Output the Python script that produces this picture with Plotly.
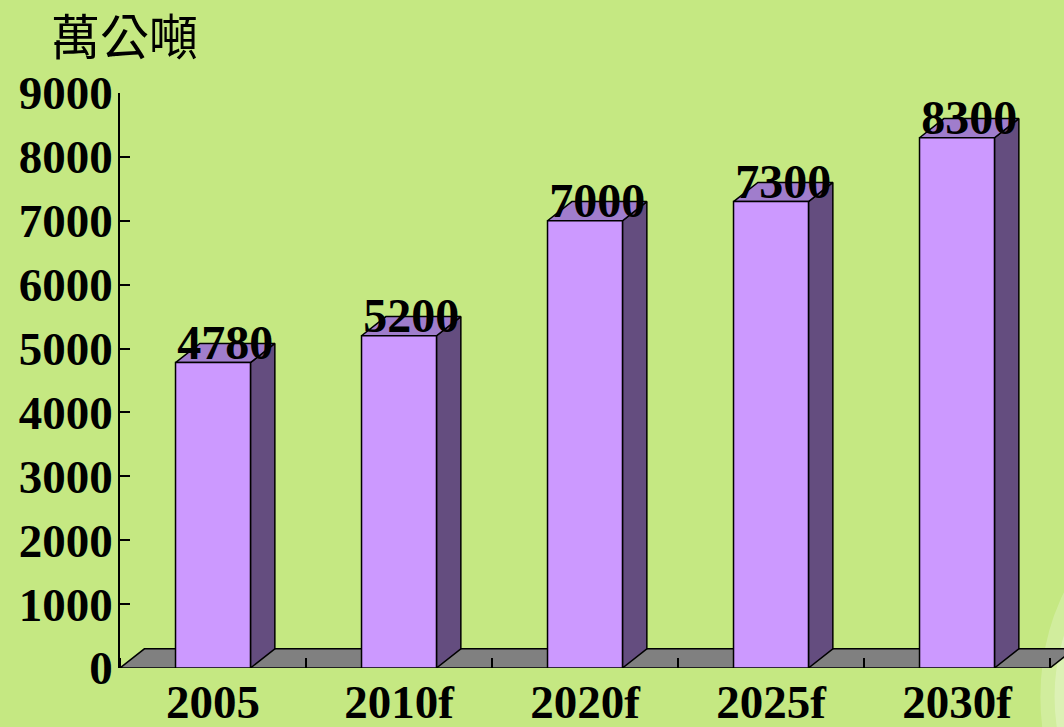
import plotly.graph_objects as go

categories = ["2005", "2010f", "2020f", "2025f", "2030f"]
values = [4780, 5200, 7000, 7300, 8300]
y_ticks = [0, 1000, 2000, 3000, 4000, 5000, 6000, 7000, 8000, 9000]
unit_title = "萬公噸"

BG = "#c5e882"
FRONT = "#cc99ff"
SIDE = "#644d7f"
TOP = "#a07dcc"
FLOOR = "#808080"
SERIF = "Liberation Serif, Times New Roman, serif"

W = 0.403      # bar width (category units)
DX = 0.131     # depth offset in x (category units)
DY = 300       # depth offset in y (value units)
LBL = 250      # label offset above bar front top

xs = list(range(len(categories)))
n = len(categories)

fig = go.Figure()


def poly(px, py, color):
    fig.add_trace(go.Scatter(
        x=px + [px[0]], y=py + [py[0]], mode="lines", fill="toself", fillcolor=color,
        line=dict(color="black", width=1.5), hoverinfo="skip", showlegend=False))


# floor
x0, x1 = -0.5, n - 0.5
poly([x0, x1, x1 + DX, x0 + DX], [0, 0, DY, DY], FLOOR)

# bars
for i, v in zip(xs, values):
    l, r = i - W / 2, i + W / 2
    poly([r, r, r + DX, r + DX], [0, v, v + DY, DY], SIDE)        # side face
    poly([l, r, r + DX, l + DX], [v, v, v + DY, v + DY], TOP)     # top face
    poly([l, r, r, l], [0, 0, v, v], FRONT)                       # front face

# labels
fig.add_trace(go.Scatter(
    x=[i + DX / 2 for i in xs], y=[v + LBL for v in values],
    mode="text", text=[str(v) for v in values], textposition="middle center",
    textfont=dict(family=SERIF, size=48, color="black", weight="bold"),
    cliponaxis=False, showlegend=False, hoverinfo="skip"))

fig.update_layout(
    width=1064, height=727,
    margin=dict(l=120, r=0, t=93, b=59, autoexpand=False),
    paper_bgcolor=BG, plot_bgcolor=BG,
    shapes=[
        dict(type="circle", xref="paper", yref="paper", layer="below",
             x0=0.975, x1=1.22, y0=-0.35, y1=0.25,
             fillcolor="rgba(255,255,255,0.22)", line=dict(width=0)),
        dict(type="circle", xref="paper", yref="paper", layer="below",
             x0=0.99, x1=1.2, y0=-0.3, y1=0.2,
             fillcolor="rgba(255,255,255,0.25)", line=dict(width=0)),
    ],
    annotations=[dict(
        text=unit_title, xref="paper", yref="paper",
        x=-0.075, y=1.0, yanchor="bottom", xanchor="left", yshift=22, showarrow=False,
        font=dict(family="Noto Sans CJK TC", size=49, color="black"))],
)

fig.update_xaxes(
    range=[-0.5, -0.5 + 944 / 186], tickvals=xs, ticktext=categories,
    ticks="", showline=False, showgrid=False, zeroline=False, automargin=False,
    ticklabelstandoff=2,
    tickfont=dict(family=SERIF, size=47, color="black", weight="bold"),
    minor=dict(tickvals=[i - 0.5 for i in range(n + 1)], ticks="inside",
               ticklen=10, tickwidth=1.5, tickcolor="black"),
)
fig.update_yaxes(
    range=[0, 9000], tickvals=y_ticks, ticks="inside", ticklen=10, tickwidth=1.5,
    tickcolor="black", showline=True, linecolor="black", linewidth=1.5,
    showgrid=False, zeroline=False, automargin=False, ticklabelstandoff=-4,
    tickfont=dict(family=SERIF, size=47, color="black", weight="bold"),
)

fig.write_html(
    "out.html",
    config={"displayModeBar": False},
    post_script="document.body.style.margin='0';document.body.style.background='#c5e882';",
)
